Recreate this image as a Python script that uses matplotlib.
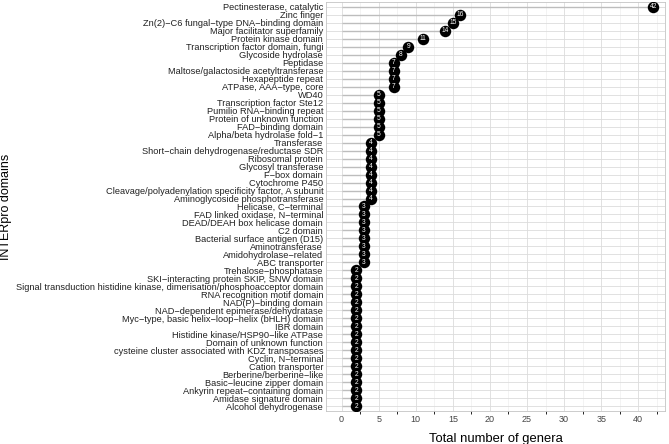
import matplotlib
matplotlib.use("Agg")
import matplotlib.pyplot as plt
from matplotlib.ticker import MultipleLocator

plt.rcParams['font.family'] = ['Liberation Sans', 'DejaVu Sans']

domains = [
    "Pectinesterase, catalytic",
    "Zinc finger",
    "Zn(2)\u2212C6 fungal\u2212type DNA\u2212binding domain",
    "Major facilitator superfamily",
    "Protein kinase domain",
    "Transcription factor domain, fungi",
    "Glycoside hydrolase",
    "Peptidase",
    "Maltose/galactoside acetyltransferase",
    "Hexapeptide repeat",
    "ATPase, AAA\u2212type, core",
    "WD40",
    "Transcription factor Ste12",
    "Pumilio RNA\u2212binding repeat",
    "Protein of unknown function",
    "FAD\u2212binding domain",
    "Alpha/beta hydrolase fold\u22121",
    "Transferase",
    "Short\u2212chain dehydrogenase/reductase SDR",
    "Ribosomal protein",
    "Glycosyl transferase",
    "F\u2212box domain",
    "Cytochrome P450",
    "Cleavage/polyadenylation specificity factor, A subunit",
    "Aminoglycoside phosphotransferase",
    "Helicase, C\u2212terminal",
    "FAD linked oxidase, N\u2212terminal",
    "DEAD/DEAH box helicase domain",
    "C2 domain",
    "Bacterial surface antigen (D15)",
    "Aminotransferase",
    "Amidohydrolase\u2212related",
    "ABC transporter",
    "Trehalose\u2212phosphatase",
    "SKI\u2212interacting protein SKIP, SNW domain",
    "Signal transduction histidine kinase, dimerisation/phosphoacceptor domain",
    "RNA recognition motif domain",
    "NAD(P)\u2212binding domain",
    "NAD\u2212dependent epimerase/dehydratase",
    "Myc\u2212type, basic helix\u2212loop\u2212helix (bHLH) domain",
    "IBR domain",
    "Histidine kinase/HSP90\u2212like ATPase",
    "Domain of unknown function",
    "cysteine cluster associated with KDZ transposases",
    "Cyclin, N\u2212terminal",
    "Cation transporter",
    "Berberine/berberine\u2212like",
    "Basic\u2212leucine zipper domain",
    "Ankyrin repeat\u2212containing domain",
    "Amidase signature domain",
    "Alcohol dehydrogenase",
]
genera = [42, 16, 15, 14, 11, 9, 8, 7, 7, 7, 7,
          5, 5, 5, 5, 5, 5,
          4, 4, 4, 4, 4, 4, 4, 4,
          3, 3, 3, 3, 3, 3, 3, 3,
          2, 2, 2, 2, 2, 2, 2, 2, 2, 2, 2, 2, 2, 2, 2, 2, 2, 2]
x_ticks = [0, 5, 10, 15, 20, 25, 30, 35, 40]

fig = plt.figure(figsize=(6.69, 4.44), dpi=100)
ax = fig.add_axes([326/669, 1 - 411/444, (665-326)/669, (411-2)/444])

n = len(domains)
ypos = list(range(n - 1, -1, -1))

ax.hlines(ypos, 0, genera, color='#bdbdbd', lw=1.0, zorder=2)
ax.scatter(genera, ypos, s=68, color='black', zorder=3, linewidths=0)
for v, y in zip(genera, ypos):
    ax.text(v, y, str(v), color='white', fontsize=4.8, ha='center', va='center', zorder=4)

ax.set_xlim(-2.1, 43.6)
ax.set_ylim(-0.6, n - 0.4)
ax.set_yticks(ypos)
ax.set_yticklabels(domains, fontsize=6.65, color='#222222')
ax.set_xticks(x_ticks)
ax.set_xticklabels([str(t) for t in x_ticks], fontsize=6.5, color='#444444')
ax.xaxis.set_minor_locator(MultipleLocator(2.5))
ax.tick_params(axis='y', length=0, pad=2)
ax.tick_params(axis='x', length=0, pad=3)

ax.grid(True, which='major', axis='both', color='#dcdcdc', lw=0.6, zorder=0)
ax.grid(True, which='minor', axis='x', color='#ececec', lw=0.45, zorder=0)
ax.set_axisbelow(True)
for s in ax.spines.values():
    s.set_color('#c4c4c4')
    s.set_linewidth(0.6)

ax.set_xlabel("Total number of genera", fontsize=9.4)
ax.xaxis.label.set_va('center')
ax.xaxis.set_label_coords(0.5, (411 - 439) / 409)
ax.set_ylabel("INTERpro domains", fontsize=9.0)
ax.yaxis.label.set_va('center')
ax.yaxis.label.set_ha('center')
ax.yaxis.set_label_coords((6 - 326) / 339, 0.5)

fig.savefig("out.png", dpi=100)
